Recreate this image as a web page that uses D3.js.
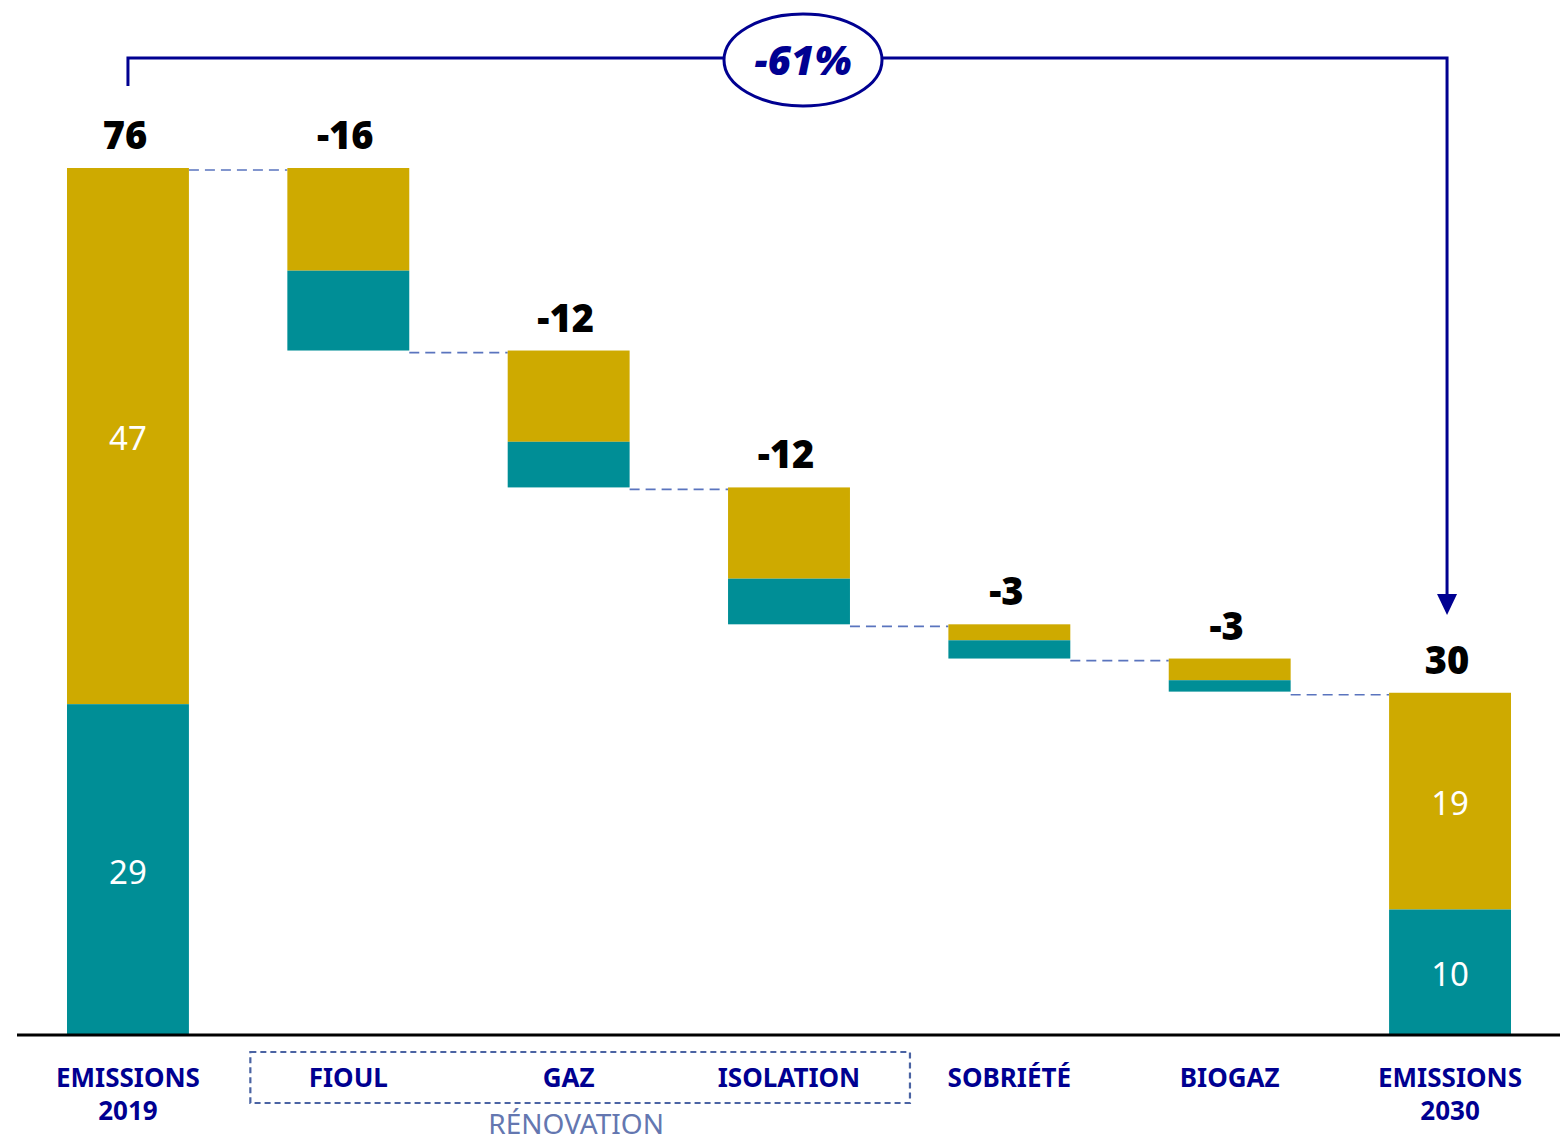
<!DOCTYPE html>
<html>
<head>
<meta charset="utf-8">
<script src="https://cdn.jsdelivr.net/npm/d3@7"></script>
<style>
  html, body { margin: 0; padding: 0; background: #fff; }
  svg { display: block; }
</style>
</head>
<body>
<svg id="chart" width="1564" height="1142"></svg>
<script>
// ---- Data ----
const categories = ["EMISSIONS 2019", "FIOUL", "GAZ", "ISOLATION", "SOBRIÉTÉ", "BIOGAZ", "EMISSIONS 2030"];
const catLines = [["EMISSIONS", "2019"], ["FIOUL"], ["GAZ"], ["ISOLATION"], ["SOBRIÉTÉ"], ["BIOGAZ"], ["EMISSIONS", "2030"]];
const kinds = ["total", "delta", "delta", "delta", "delta", "delta", "total"];
const goldValues = [47, 9, 8, 8, 1.4, 1.9, 19];
const tealValues = [29, 7, 4, 4, 1.6, 1.0, 11];
const topLabels = ["76", "-16", "-12", "-12", "-3", "-3", "30"];
const goldLabels = ["47", "", "", "", "", "", "19"];
const tealLabels = ["29", "", "", "", "", "", "10"];
const groupLabel = "RÉNOVATION";
const groupMembers = ["FIOUL", "GAZ", "ISOLATION"];
const changeLabel = "-61%";

// ---- Setup ----
const svg = d3.select("#chart");
const GOLD = "#CEAA00", TEAL = "#008E96", BLUE = "#000091";
const font = "'Noto Sans', 'Open Sans', sans-serif";

const x = d3.scaleBand().domain(categories).range([67, 1511]).paddingInner(0.4467).paddingOuter(0);
const y = d3.scaleLinear().domain([0, 76]).range([1035, 168]);
const bw = x.bandwidth();

// compute waterfall geometry
let level = 0;
const bars = categories.map((c, i) => {
  const total = goldValues[i] + tealValues[i];
  let top, bottom;
  if (kinds[i] === "total") { top = total; bottom = 0; }
  else { top = level; bottom = level - total; }
  level = kinds[i] === "total" ? total : bottom;
  const goldTop = top, goldBottom = top - goldValues[i];
  const tealTop = goldBottom, tealBottom = bottom;
  return { c, i, top, bottom, goldTop, goldBottom, tealTop, tealBottom, after: level };
});

// connectors
const conn = svg.append("g");
bars.slice(0, -1).forEach((b, i) => {
  const next = bars[i + 1];
  conn.append("line")
    .attr("x1", x(b.c) + bw).attr("x2", x(next.c))
    .attr("y1", y(next.top) + 2).attr("y2", y(next.top) + 2)
    .attr("stroke", "#5A74BE").attr("stroke-width", 1.7)
    .attr("stroke-dasharray", "10,6");
});

// bars
const g = svg.append("g");
g.selectAll("rect.gold").data(bars).join("rect")
  .attr("class", "gold")
  .attr("x", d => x(d.c)).attr("width", bw)
  .attr("y", d => y(d.goldTop)).attr("height", d => y(d.goldBottom) - y(d.goldTop))
  .attr("fill", GOLD);
g.selectAll("rect.teal").data(bars).join("rect")
  .attr("class", "teal")
  .attr("x", d => x(d.c)).attr("width", bw)
  .attr("y", d => y(d.tealTop)).attr("height", d => y(d.tealBottom) - y(d.tealTop))
  .attr("fill", TEAL);

// inner labels
g.selectAll("text.gl").data(bars.filter(d => goldLabels[d.i])).join("text")
  .attr("x", d => x(d.c) + bw / 2).attr("y", d => (y(d.goldTop) + y(d.goldBottom)) / 2 + 14)
  .attr("text-anchor", "middle").attr("fill", "#fff")
  .style("font", `400 33px ${font}`).text(d => goldLabels[d.i]);
g.selectAll("text.tl").data(bars.filter(d => tealLabels[d.i])).join("text")
  .attr("x", d => x(d.c) + bw / 2).attr("y", d => (y(d.tealTop) + y(d.tealBottom)) / 2 + 14)
  .attr("text-anchor", "middle").attr("fill", "#fff")
  .style("font", `400 33px ${font}`).text(d => tealLabels[d.i]);

// top labels
g.selectAll("text.top").data(bars).join("text")
  .attr("x", d => x(d.c) + bw / 2 - 3).attr("y", d => y(d.top) - 19)
  .attr("text-anchor", "middle").attr("fill", "#000")
  .style("font", `900 38px ${font}`).text(d => topLabels[d.i]);

// baseline
svg.append("line").attr("x1", 17).attr("x2", 1560).attr("y1", 1035).attr("y2", 1035)
  .attr("stroke", "#000").attr("stroke-width", 3);

// category labels
const cl = svg.append("g");
catLines.forEach((lines, i) => {
  const t = cl.append("text").attr("text-anchor", "middle").attr("fill", BLUE)
    .style("font", `700 26px ${font}`);
  lines.forEach((ln, j) => {
    t.append("tspan").attr("x", x(categories[i]) + bw / 2).attr("y", 1087 + j * 33).text(ln);
  });
});

// group box
const gx0 = x(groupMembers[0]) - 37;
const gx1 = x(groupMembers[groupMembers.length - 1]) + bw + 60;
svg.append("rect").attr("x", gx0).attr("y", 1052).attr("width", gx1 - gx0).attr("height", 51)
  .attr("fill", "none").attr("stroke", "#4A63A3").attr("stroke-width", 2.2).attr("stroke-dasharray", "6,4");
svg.append("text").attr("x", (gx0 + gx1) / 2 - 4).attr("y", 1134).attr("text-anchor", "middle")
  .attr("fill", "#6477B0").style("font", `400 28px ${font}`).text(groupLabel);

// bracket annotation
const xa = x(categories[0]) + bw / 2, xb = x(categories[categories.length - 1]) + bw / 2 - 3;
const yBr = 58;
svg.append("path")
  .attr("d", `M${xa},86 V${yBr} H${xb} V596`)
  .attr("fill", "none").attr("stroke", BLUE).attr("stroke-width", 3);
svg.append("path")
  .attr("d", `M${xb - 10},594 L${xb + 10},594 L${xb},615 Z`).attr("fill", BLUE);
svg.append("ellipse").attr("cx", 803).attr("cy", 60).attr("rx", 79).attr("ry", 46)
  .attr("fill", "#fff").attr("stroke", BLUE).attr("stroke-width", 3);
svg.append("text").attr("x", 803).attr("y", 75).attr("text-anchor", "middle").attr("fill", BLUE)
  .style("font", `italic 900 40px ${font}`).text(changeLabel);
</script>
</body>
</html>
